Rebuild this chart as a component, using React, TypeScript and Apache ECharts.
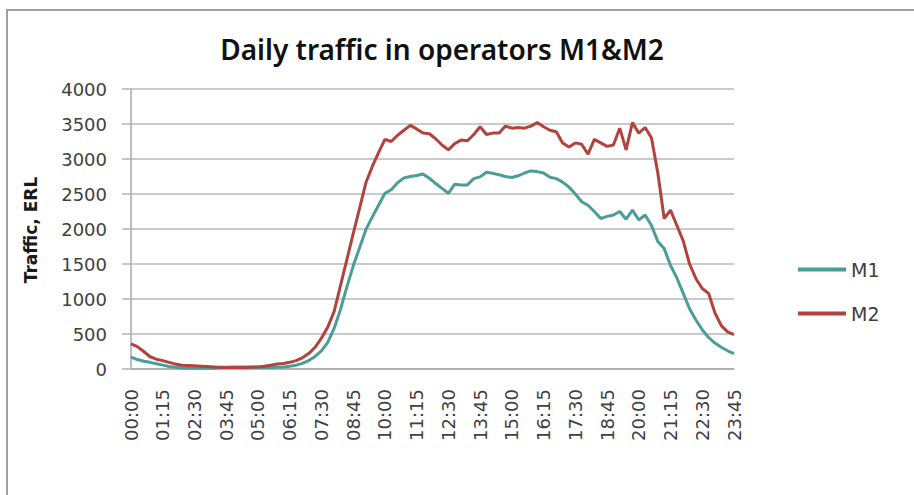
import React, { useEffect, useRef } from "react";
import * as echarts from "echarts";

const times: string[] = [];
for (let h = 0; h < 24; h++) {
  for (let m = 0; m < 60; m += 15) {
    times.push(`${String(h).padStart(2, "0")}:${String(m).padStart(2, "0")}`);
  }
}

const m1Values = [
  170, 135, 110, 95, 75, 55, 35, 25, 15, 10,
  10, 10, 10, 12, 20, 25, 30, 30, 30, 30,
  25, 20, 20, 25, 30, 40, 55, 80, 120, 180,
  260, 380, 580, 850, 1170, 1470, 1730, 1990, 2170, 2340,
  2510, 2560, 2660, 2730, 2750, 2765, 2785, 2725, 2650, 2580,
  2510, 2640, 2630, 2630, 2720, 2745, 2810, 2795, 2775, 2750,
  2735, 2760, 2800, 2830, 2820, 2800, 2740, 2720, 2670, 2600,
  2500, 2390, 2340, 2250, 2150, 2180, 2200, 2250, 2140, 2270,
  2130, 2200, 2050, 1820, 1720, 1480, 1300, 1080, 860, 700,
  560, 450, 370, 310, 260, 220,
];

const m2Values = [
  360, 320, 250, 175, 140, 120, 95, 70, 55, 50,
  45, 40, 35, 30, 25, 20, 20, 20, 20, 25,
  30, 40, 55, 70, 80, 95, 120, 160, 220, 310,
  440, 600, 820, 1190, 1560, 1930, 2290, 2660, 2890, 3090,
  3280, 3250, 3340, 3410, 3480, 3430, 3370, 3360, 3290, 3200,
  3130, 3220, 3270, 3260, 3350, 3460, 3350, 3370, 3370, 3470,
  3440, 3450, 3440, 3470, 3520, 3460, 3410, 3390, 3230, 3170,
  3230, 3210, 3070, 3280, 3230, 3180, 3200, 3440, 3130, 3520,
  3370, 3450, 3300, 2800, 2150, 2270, 2050, 1830, 1500, 1290,
  1150, 1080, 800, 620, 530, 490,
];

const seriesNames = ["M1", "M2"];
const titleText = "Daily traffic in operators M1&M2";
const yAxisTitle = "Traffic, ERL";

export default function App() {
  const ref = useRef<HTMLDivElement>(null);

  useEffect(() => {
    if (!ref.current) return;
    const chart = echarts.init(ref.current, null, { renderer: "svg" });
    const font = "DejaVu Sans";
    chart.setOption({
      animation: false,
      backgroundColor: "#ffffff",
      title: {
        text: titleText,
        left: 437,
        top: 30,
        textAlign: "center",
        textStyle: {
          fontFamily: "Noto Sans",
          fontSize: 28,
          fontWeight: 600,
          color: "#111111",
        },
      },
      graphic: [
        {
          type: "rect",
          shape: { x: 7, y: 10, width: 1000, height: 600 },
          style: { fill: "none", stroke: "#a0a0a0", lineWidth: 2 },
          silent: true,
        },
        {
          type: "text",
          x: 31,
          y: 230,
          rotation: Math.PI / 2,
          style: {
            text: yAxisTitle,
            fontFamily: font,
            fontSize: 17,
            fontWeight: "bold",
            fill: "#1a1a1a",
            align: "center",
            verticalAlign: "middle",
          },
        },
      ],
      legend: {
        orient: "vertical",
        left: 793,
        top: 255,
        itemGap: 25,
        itemWidth: 48,
        itemHeight: 4,
        icon: "rect",
        textStyle: { fontFamily: font, fontSize: 19, color: "#404040" },
        data: seriesNames,
      },
      grid: { left: 131, right: 180, top: 89, bottom: 126, containLabel: false },
      xAxis: {
        type: "category",
        data: times,
        boundaryGap: false,
        axisLine: { lineStyle: { color: "#a8a8a8", width: 1.5 } },
        axisTick: { show: false },
        axisLabel: {
          interval: 4,
          rotate: 90,
          margin: 20,
          fontFamily: font,
          fontSize: 18,
          color: "#404040",
        },
        splitLine: { show: false },
      },
      yAxis: {
        type: "value",
        min: 0,
        max: 4000,
        interval: 500,
        axisLine: { show: true, lineStyle: { color: "#a8a8a8", width: 1.5 } },
        axisTick: { show: true, length: 9, lineStyle: { color: "#b4b4b4", width: 1.5 } },
        axisLabel: {
          margin: 24,
          fontFamily: font,
          fontSize: 18,
          color: "#404040",
          formatter: (v: number) => String(v),
        },
        splitLine: { show: true, lineStyle: { color: "#b8b8b8", width: 1.5 } },
      },
      series: [
        {
          name: seriesNames[0],
          type: "line",
          data: m1Values,
          showSymbol: false,
          color: "#4a9e97",
          lineStyle: { width: 3, color: "#4a9e97" },
        },
        {
          name: seriesNames[1],
          type: "line",
          data: m2Values,
          showSymbol: false,
          color: "#b2423e",
          lineStyle: { width: 3, color: "#b2423e" },
        },
      ],
    });
    return () => chart.dispose();
  }, []);

  return (
    <div
      ref={ref}
      style={{ position: "fixed", left: 0, top: 0, width: 914, height: 495 }}
    />
  );
}
